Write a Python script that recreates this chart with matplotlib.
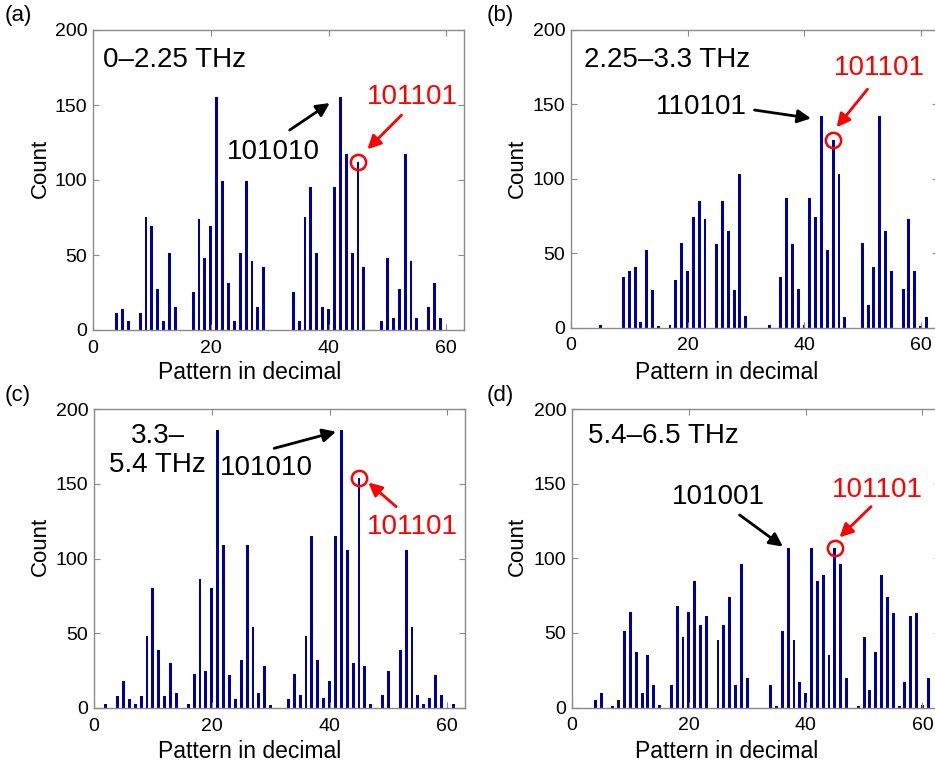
import matplotlib
matplotlib.use("Agg")
import matplotlib.pyplot as plt

plt.rcParams['font.family'] = ['Liberation Sans', 'DejaVu Sans']

# ---- data ----
xa = [4,5,6,8,9,10,11,12,13,14,17,18,19,20,21,22,23,24,25,26,27,28,29,
      34,35,36,37,38,39,40,41,42,43,44,45,46,49,50,51,52,53,54,55,57,58,59]
ya = [11,14,6,11,75,69,27,6,51,15,25,74,48,69,155,99,31,6,51,99,46,15,42,
      25,6,75,95,51,15,14,95,155,117,51,112,42,6,48,8,27,117,46,8,15,31,8]

xb = [5,9,10,11,12,13,14,15,17,18,19,20,21,22,23,25,26,27,28,29,30,
      34,36,37,38,39,40,41,42,43,44,45,46,47,50,51,52,53,54,55,57,58,59,60,61]
yb = [2,34,38,41,4,52,25,1,2,32,57,38,74,85,73,56,85,65,25,103,8,
      2,34,87,56,26,2,87,74,142,52,126,103,7,57,15,41,142,65,38,26,73,38,1,7]

xc = [2,4,5,6,7,8,9,10,11,12,13,14,16,17,18,19,20,21,22,23,24,25,26,27,28,29,30,
      33,34,35,36,37,38,39,40,41,42,43,44,45,46,47,49,50,52,53,54,55,56,57,58,59,61]
yc = [3,8,18,6,3,8,48,80,39,8,30,10,3,23,86,25,80,186,109,22,6,32,109,54,10,28,2,
      6,23,9,48,115,32,7,18,115,186,106,30,154,28,3,9,25,39,106,54,9,3,7,22,9,3]

xd = [4,5,7,8,9,10,11,12,13,14,15,17,18,19,20,21,22,23,25,26,27,28,29,30,
      34,35,36,37,38,39,40,41,42,43,44,45,46,47,49,50,51,52,53,54,55,56,57,58,59,60,61]
yd = [5,10,1,5,51,64,37,10,35,15,2,15,68,47,64,85,55,61,45,55,74,15,96,20,
      15,1,51,107,45,17,10,107,85,89,35,107,96,20,1,47,12,37,89,74,63,1,17,61,63,2,20]

ranges = ["0\u20132.25 THz", "2.25\u20133.3 THz", "3.3\u2013\n5.4 THz", "5.4\u20136.5 THz"]
letters = ["(a)", "(b)", "(c)", "(d)"]
xticks = [0, 20, 40, 60]
yticks = [0, 50, 100, 150, 200]

W, H = 935, 767
fig = plt.figure(figsize=(W/100, H/100), dpi=100)

def rect(l, t, r, b):
    return [l/W, 1 - b/H, (r-l)/W, (b-t)/H]

axes_px = [(93, 30, 464, 330), (571, 30, 938, 327.5),
           (94, 409, 465, 708), (572, 409, 940, 707.5)]
datasets = [(xa, ya), (xb, yb), (xc, yc), (xd, yd)]
grey = '#8a8a8a'
barc = '#0000A0'

axs = []
for (l, t, r, b), (x, y) in zip(axes_px, datasets):
    ax = fig.add_axes(rect(l, t, r, b))
    ax.bar(x, y, width=0.5, color=barc, edgecolor='none')
    ax.set_xlim(0, 63)
    ax.set_ylim(0, 200)
    ax.set_xticks(xticks)
    ax.set_yticks(yticks)
    ax.tick_params(direction='in', top=True, right=True, length=4, color=grey,
                   labelsize=14, width=0.8)
    ax.tick_params(axis='x', pad=7)
    ax.tick_params(axis='y', pad=4)
    for s in ax.spines.values():
        s.set_color(grey)
        s.set_linewidth(1.0)
    axs.append(ax)

# labels
for (cx, cy) in [(40, 168), (517, 168), (40, 546), (517, 546)]:
    fig.text(cx/W, 1 - cy/H, "Count", rotation=90, ha='center', va='center', fontsize=16)
for (cx, cy) in [(250, 373), (727, 373), (250, 752), (727, 752)]:
    fig.text(cx/W, 1 - cy/H, "Pattern in decimal", ha='center', va='center', fontsize=16.5)
for (cx, cy), s in zip([(5, 16), (487, 16), (5, 396), (487, 396)], letters):
    fig.text(cx/W, 1 - cy/H, s, ha='left', va='center', fontsize=16)

fs = 20
arw = dict(arrowstyle='-|>', lw=2, mutation_scale=20, shrinkA=0, shrinkB=0)
arw_k = dict(arw, color='black')
arw_r = dict(arw, color='red')

# panel a
ax = axs[0]
ax.text(1.7, 180, ranges[0], ha='left', va='center', fontsize=fs)
ax.text(30.7, 118.5, "101010", ha='center', va='center', fontsize=fs)
ax.annotate("", xy=(40.2, 151.3), xytext=(33.4, 133.3), arrowprops=arw_k)
ax.text(54.2, 155.3, "101101", ha='center', va='center', fontsize=fs, color='red')
ax.annotate("", xy=(46.6, 120.5), xytext=(52.4, 143.3), arrowprops=arw_r)
ax.plot([45], [112], 'o', ms=11, mfc='none', mec='red', mew=1.8)

# panel b
ax = axs[1]
ax.text(2.15, 180, ranges[1], ha='left', va='center', fontsize=fs)
ax.text(22.3, 148, "110101", ha='center', va='center', fontsize=fs)
ax.annotate("", xy=(41.2, 140.6), xytext=(31.5, 146.2), arrowprops=arw_k)
ax.text(52.9, 174.5, "101101", ha='center', va='center', fontsize=fs, color='red')
ax.annotate("", xy=(45.6, 134.6), xytext=(50.9, 160.2), arrowprops=arw_r)
ax.plot([45], [126], 'o', ms=11, mfc='none', mec='red', mew=1.8)

# panel c
ax = axs[2]
ax.text(10.8, 172, ranges[2], ha='center', va='center', fontsize=fs,
        multialignment='center', linespacing=1.15)
ax.text(29.2, 160.5, "101010", ha='center', va='center', fontsize=fs)
ax.annotate("", xy=(41.1, 184.8), xytext=(30.6, 173.7), arrowprops=arw_k)
ax.text(54.1, 121.3, "101101", ha='center', va='center', fontsize=fs, color='red')
ax.annotate("", xy=(46.6, 150.8), xytext=(51.3, 134.7), arrowprops=arw_r)
ax.plot([45], [154], 'o', ms=11, mfc='none', mec='red', mew=1.8)

# panel d
ax = axs[3]
ax.text(2.7, 181.6, ranges[3], ha='left', va='center', fontsize=fs)
ax.text(25.1, 141, "101001", ha='center', va='center', fontsize=fs)
ax.annotate("", xy=(36.1, 107.8), xytext=(28.7, 129), arrowprops=arw_k)
ax.text(52.3, 145.4, "101101", ha='center', va='center', fontsize=fs, color='red')
ax.annotate("", xy=(45.8, 114), xytext=(51.2, 134.6), arrowprops=arw_r)
ax.plot([45], [107], 'o', ms=11, mfc='none', mec='red', mew=1.8)

fig.savefig("out.png", dpi=100)
